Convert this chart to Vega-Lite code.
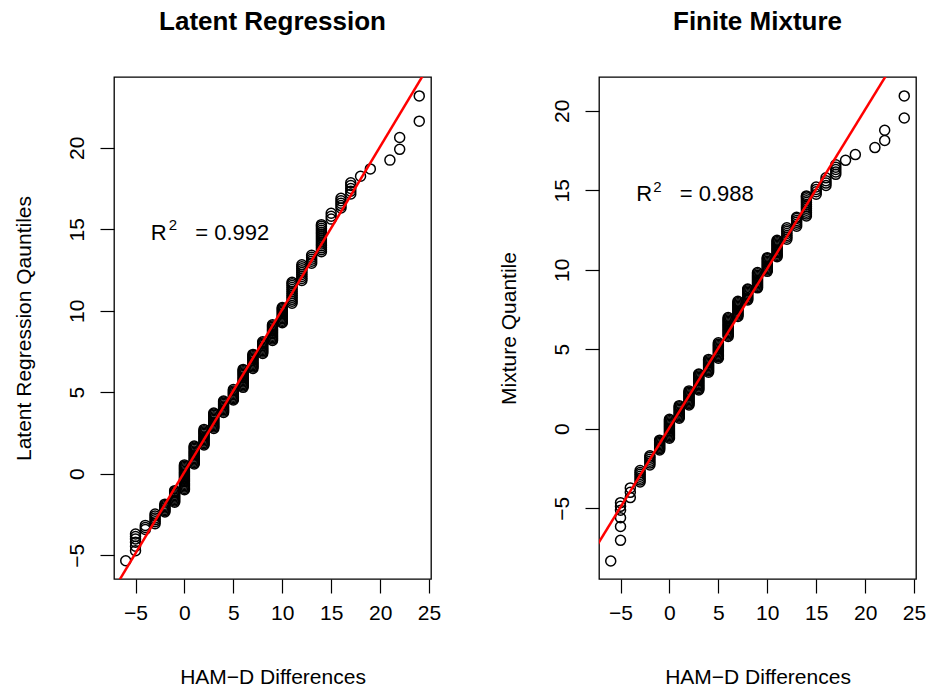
{
"$schema": "https://vega.github.io/schema/vega-lite/v6.json",
"padding": {"left": 12, "top": 8, "right": 5, "bottom": 0},
"background": "white",
"config": {
  "font": "Liberation Sans",
  "view": {"stroke": "black", "strokeWidth": 1.3},
  "axis": {"grid": false, "domain": false, "tickColor": "black", "tickWidth": 1.2, "tickSize": 14, "labelFont": "Liberation Sans", "labelFontSize": 21, "labelColor": "black", "labelFlush": false, "labelOverlap": false, "titleFont": "Liberation Sans", "titleFontSize": 21, "titleFontWeight": "normal", "titleColor": "black"},
  "title": {"font": "Liberation Sans", "fontSize": 26, "fontWeight": "bold", "color": "black", "anchor": "middle", "frame": "group", "baseline": "alphabetic", "offset": 42}
},
"datasets": {
"L": [
{"x":-6,"y":-5.34},
{"x":-5,"y":-4.72},{"x":-5,"y":-4.45},{"x":-5,"y":-4.2},{"x":-5,"y":-4.0},{"x":-5,"y":-3.85},{"x":-5,"y":-3.7},
{"x":-4,"y":-3.42},{"x":-4,"y":-3.3},{"x":-4,"y":-3.17},
{"x":-3,"y":-3.07},{"x":-3,"y":-2.95},{"x":-3,"y":-2.83},{"x":-3,"y":-2.71},{"x":-3,"y":-2.59},{"x":-3,"y":-2.47},
{"x":-2,"y":-2.35},{"x":-2,"y":-2.27},{"x":-2,"y":-2.19},{"x":-2,"y":-2.11},{"x":-2,"y":-2.03},{"x":-2,"y":-1.95},{"x":-2,"y":-1.87},
{"x":-1,"y":-1.75},{"x":-1,"y":-1.67},{"x":-1,"y":-1.59},{"x":-1,"y":-1.51},{"x":-1,"y":-1.43},{"x":-1,"y":-1.35},{"x":-1,"y":-1.27},{"x":-1,"y":-1.19},{"x":-1,"y":-1.11},{"x":-1,"y":-1.04},
{"x":0,"y":-0.98},{"x":0,"y":-0.9},{"x":0,"y":-0.82},{"x":0,"y":-0.74},{"x":0,"y":-0.66},{"x":0,"y":-0.58},{"x":0,"y":-0.5},{"x":0,"y":-0.42},{"x":0,"y":-0.34},{"x":0,"y":-0.26},{"x":0,"y":-0.18},{"x":0,"y":-0.1},{"x":0,"y":-0.02},{"x":0,"y":0.06},{"x":0,"y":0.14},{"x":0,"y":0.22},{"x":0,"y":0.3},{"x":0,"y":0.38},{"x":0,"y":0.46},{"x":0,"y":0.54},
{"x":1,"y":0.6},{"x":1,"y":0.68},{"x":1,"y":0.76},{"x":1,"y":0.84},{"x":1,"y":0.92},{"x":1,"y":1.0},{"x":1,"y":1.08},{"x":1,"y":1.16},{"x":1,"y":1.24},{"x":1,"y":1.32},{"x":1,"y":1.4},{"x":1,"y":1.48},{"x":1,"y":1.56},{"x":1,"y":1.64},{"x":1,"y":1.7},
{"x":2,"y":1.76},{"x":2,"y":1.84},{"x":2,"y":1.92},{"x":2,"y":2.0},{"x":2,"y":2.08},{"x":2,"y":2.16},{"x":2,"y":2.24},{"x":2,"y":2.32},{"x":2,"y":2.4},{"x":2,"y":2.48},{"x":2,"y":2.56},{"x":2,"y":2.64},{"x":2,"y":2.72},
{"x":3,"y":2.78},{"x":3,"y":2.86},{"x":3,"y":2.94},{"x":3,"y":3.02},{"x":3,"y":3.1},{"x":3,"y":3.18},{"x":3,"y":3.26},{"x":3,"y":3.34},{"x":3,"y":3.42},{"x":3,"y":3.5},{"x":3,"y":3.58},{"x":3,"y":3.66},{"x":3,"y":3.72},
{"x":4,"y":3.76},{"x":4,"y":3.84},{"x":4,"y":3.92},{"x":4,"y":4.0},{"x":4,"y":4.08},{"x":4,"y":4.16},{"x":4,"y":4.24},{"x":4,"y":4.32},{"x":4,"y":4.4},{"x":4,"y":4.46},
{"x":5,"y":4.52},{"x":5,"y":4.6},{"x":5,"y":4.68},{"x":5,"y":4.76},{"x":5,"y":4.84},{"x":5,"y":4.92},{"x":5,"y":5.0},{"x":5,"y":5.08},{"x":5,"y":5.16},
{"x":6,"y":5.3},{"x":6,"y":5.38},{"x":6,"y":5.46},{"x":6,"y":5.54},{"x":6,"y":5.62},{"x":6,"y":5.7},{"x":6,"y":5.78},{"x":6,"y":5.86},{"x":6,"y":5.94},{"x":6,"y":6.02},{"x":6,"y":6.1},{"x":6,"y":6.18},{"x":6,"y":6.26},{"x":6,"y":6.34},{"x":6,"y":6.4},
{"x":7,"y":6.46},{"x":7,"y":6.54},{"x":7,"y":6.62},{"x":7,"y":6.7},{"x":7,"y":6.78},{"x":7,"y":6.86},{"x":7,"y":6.94},{"x":7,"y":7.02},{"x":7,"y":7.1},{"x":7,"y":7.18},{"x":7,"y":7.26},{"x":7,"y":7.32},
{"x":8,"y":7.38},{"x":8,"y":7.46},{"x":8,"y":7.54},{"x":8,"y":7.62},{"x":8,"y":7.7},{"x":8,"y":7.78},{"x":8,"y":7.86},{"x":8,"y":7.94},{"x":8,"y":8.02},{"x":8,"y":8.1},
{"x":9,"y":8.18},{"x":9,"y":8.26},{"x":9,"y":8.34},{"x":9,"y":8.42},{"x":9,"y":8.5},{"x":9,"y":8.58},{"x":9,"y":8.66},{"x":9,"y":8.74},{"x":9,"y":8.82},{"x":9,"y":8.9},{"x":9,"y":8.98},{"x":9,"y":9.06},{"x":9,"y":9.14},
{"x":10,"y":9.26},{"x":10,"y":9.34},{"x":10,"y":9.42},{"x":10,"y":9.5},{"x":10,"y":9.58},{"x":10,"y":9.66},{"x":10,"y":9.74},{"x":10,"y":9.82},{"x":10,"y":9.9},{"x":10,"y":9.98},{"x":10,"y":10.06},{"x":10,"y":10.14},{"x":10,"y":10.2},
{"x":11,"y":10.46},{"x":11,"y":10.58},{"x":11,"y":10.7},{"x":11,"y":10.82},{"x":11,"y":10.94},{"x":11,"y":11.06},{"x":11,"y":11.18},{"x":11,"y":11.3},{"x":11,"y":11.42},{"x":11,"y":11.54},{"x":11,"y":11.66},{"x":11,"y":11.75},
{"x":12,"y":11.86},{"x":12,"y":11.98},{"x":12,"y":12.1},{"x":12,"y":12.22},{"x":12,"y":12.34},{"x":12,"y":12.46},{"x":12,"y":12.58},{"x":12,"y":12.7},{"x":12,"y":12.82},
{"x":13,"y":12.92},{"x":13,"y":13.04},{"x":13,"y":13.16},{"x":13,"y":13.28},{"x":13,"y":13.4},
{"x":14,"y":13.62},{"x":14,"y":13.74},{"x":14,"y":13.86},{"x":14,"y":13.98},{"x":14,"y":14.1},{"x":14,"y":14.22},{"x":14,"y":14.34},{"x":14,"y":14.46},{"x":14,"y":14.58},{"x":14,"y":14.7},{"x":14,"y":14.82},{"x":14,"y":14.94},{"x":14,"y":15.06},{"x":14,"y":15.18},{"x":14,"y":15.28},
{"x":15,"y":15.62},{"x":15,"y":15.8},{"x":15,"y":15.98},
{"x":16,"y":16.3},{"x":16,"y":16.45},{"x":16,"y":16.6},{"x":16,"y":16.75},{"x":16,"y":16.9},
{"x":17,"y":17.16},{"x":17,"y":17.33},{"x":17,"y":17.5},{"x":17,"y":17.68},{"x":17,"y":17.85},
{"x":18,"y":18.25},{"x":19,"y":18.7},{"x":21,"y":19.24},
{"x":22,"y":19.9},{"x":22,"y":20.63},
{"x":24,"y":21.63},{"x":24,"y":23.18}
],
"R": [
{"x":-6,"y":-8.32},
{"x":-5,"y":-7.02},{"x":-5,"y":-6.15},{"x":-5,"y":-5.6},{"x":-5,"y":-5.13},{"x":-5,"y":-4.88},{"x":-5,"y":-4.65},
{"x":-4,"y":-4.33},{"x":-4,"y":-4.0},{"x":-4,"y":-3.72},
{"x":-3,"y":-3.35},{"x":-3,"y":-3.23},{"x":-3,"y":-3.11},{"x":-3,"y":-2.99},{"x":-3,"y":-2.87},{"x":-3,"y":-2.75},{"x":-3,"y":-2.63},
{"x":-2,"y":-2.28},{"x":-2,"y":-2.16},{"x":-2,"y":-2.04},{"x":-2,"y":-1.92},{"x":-2,"y":-1.8},{"x":-2,"y":-1.7},
{"x":-1,"y":-1.33},{"x":-1,"y":-1.25},{"x":-1,"y":-1.17},{"x":-1,"y":-1.09},{"x":-1,"y":-1.01},{"x":-1,"y":-0.93},{"x":-1,"y":-0.85},{"x":-1,"y":-0.77},{"x":-1,"y":-0.72},
{"x":0,"y":-0.6},{"x":0,"y":-0.52},{"x":0,"y":-0.44},{"x":0,"y":-0.36},{"x":0,"y":-0.28},{"x":0,"y":-0.2},{"x":0,"y":-0.12},{"x":0,"y":-0.04},{"x":0,"y":0.04},{"x":0,"y":0.12},{"x":0,"y":0.2},{"x":0,"y":0.28},{"x":0,"y":0.36},{"x":0,"y":0.44},{"x":0,"y":0.52},{"x":0,"y":0.6},
{"x":1,"y":0.66},{"x":1,"y":0.74},{"x":1,"y":0.82},{"x":1,"y":0.9},{"x":1,"y":0.98},{"x":1,"y":1.06},{"x":1,"y":1.14},{"x":1,"y":1.22},{"x":1,"y":1.3},{"x":1,"y":1.38},{"x":1,"y":1.45},
{"x":2,"y":1.5},{"x":2,"y":1.58},{"x":2,"y":1.66},{"x":2,"y":1.74},{"x":2,"y":1.82},{"x":2,"y":1.9},{"x":2,"y":1.98},{"x":2,"y":2.06},{"x":2,"y":2.14},{"x":2,"y":2.22},{"x":2,"y":2.3},{"x":2,"y":2.38},
{"x":3,"y":2.44},{"x":3,"y":2.52},{"x":3,"y":2.6},{"x":3,"y":2.68},{"x":3,"y":2.76},{"x":3,"y":2.84},{"x":3,"y":2.92},{"x":3,"y":3.0},{"x":3,"y":3.08},{"x":3,"y":3.16},{"x":3,"y":3.24},{"x":3,"y":3.32},{"x":3,"y":3.4},{"x":3,"y":3.44},
{"x":4,"y":3.56},{"x":4,"y":3.64},{"x":4,"y":3.72},{"x":4,"y":3.8},{"x":4,"y":3.88},{"x":4,"y":3.96},{"x":4,"y":4.04},{"x":4,"y":4.12},{"x":4,"y":4.2},{"x":4,"y":4.28},{"x":4,"y":4.36},
{"x":5,"y":4.44},{"x":5,"y":4.52},{"x":5,"y":4.6},{"x":5,"y":4.68},{"x":5,"y":4.76},{"x":5,"y":4.84},{"x":5,"y":4.92},{"x":5,"y":5.0},{"x":5,"y":5.08},{"x":5,"y":5.16},{"x":5,"y":5.24},{"x":5,"y":5.32},{"x":5,"y":5.4},
{"x":6,"y":5.8},{"x":6,"y":5.88},{"x":6,"y":5.96},{"x":6,"y":6.04},{"x":6,"y":6.12},{"x":6,"y":6.2},{"x":6,"y":6.28},{"x":6,"y":6.36},{"x":6,"y":6.44},{"x":6,"y":6.52},{"x":6,"y":6.6},{"x":6,"y":6.68},{"x":6,"y":6.76},{"x":6,"y":6.84},{"x":6,"y":6.92},{"x":6,"y":6.99},
{"x":7,"y":7.06},{"x":7,"y":7.14},{"x":7,"y":7.22},{"x":7,"y":7.3},{"x":7,"y":7.38},{"x":7,"y":7.46},{"x":7,"y":7.54},{"x":7,"y":7.62},{"x":7,"y":7.7},{"x":7,"y":7.78},{"x":7,"y":7.86},{"x":7,"y":7.94},{"x":7,"y":8.02},
{"x":8,"y":8.1},{"x":8,"y":8.18},{"x":8,"y":8.26},{"x":8,"y":8.34},{"x":8,"y":8.42},{"x":8,"y":8.5},{"x":8,"y":8.58},{"x":8,"y":8.66},{"x":8,"y":8.74},{"x":8,"y":8.78},
{"x":9,"y":8.86},{"x":9,"y":8.94},{"x":9,"y":9.02},{"x":9,"y":9.1},{"x":9,"y":9.18},{"x":9,"y":9.26},{"x":9,"y":9.34},{"x":9,"y":9.42},{"x":9,"y":9.5},{"x":9,"y":9.58},{"x":9,"y":9.66},{"x":9,"y":9.74},{"x":9,"y":9.82},
{"x":10,"y":9.9},{"x":10,"y":9.98},{"x":10,"y":10.06},{"x":10,"y":10.14},{"x":10,"y":10.22},{"x":10,"y":10.3},{"x":10,"y":10.38},{"x":10,"y":10.46},{"x":10,"y":10.54},{"x":10,"y":10.62},{"x":10,"y":10.7},{"x":10,"y":10.76},
{"x":11,"y":10.82},{"x":11,"y":10.9},{"x":11,"y":10.98},{"x":11,"y":11.06},{"x":11,"y":11.14},{"x":11,"y":11.22},{"x":11,"y":11.3},{"x":11,"y":11.38},{"x":11,"y":11.46},{"x":11,"y":11.54},{"x":11,"y":11.62},{"x":11,"y":11.7},{"x":11,"y":11.78},{"x":11,"y":11.85},
{"x":12,"y":11.92},{"x":12,"y":12.04},{"x":12,"y":12.16},{"x":12,"y":12.28},{"x":12,"y":12.4},{"x":12,"y":12.52},{"x":12,"y":12.64},
{"x":13,"y":12.74},{"x":13,"y":12.86},{"x":13,"y":12.98},{"x":13,"y":13.1},{"x":13,"y":13.22},{"x":13,"y":13.3},
{"x":14,"y":13.38},{"x":14,"y":13.5},{"x":14,"y":13.62},{"x":14,"y":13.74},{"x":14,"y":13.86},{"x":14,"y":13.98},{"x":14,"y":14.1},{"x":14,"y":14.22},{"x":14,"y":14.34},{"x":14,"y":14.46},{"x":14,"y":14.58},{"x":14,"y":14.64},
{"x":15,"y":14.75},{"x":15,"y":14.9},{"x":15,"y":15.05},{"x":15,"y":15.2},
{"x":16,"y":15.3},{"x":16,"y":15.45},{"x":16,"y":15.6},{"x":16,"y":15.78},
{"x":17,"y":16.0},{"x":17,"y":16.15},{"x":17,"y":16.3},{"x":17,"y":16.45},{"x":17,"y":16.6},
{"x":18,"y":16.88},{"x":19,"y":17.24},{"x":21,"y":17.68},
{"x":22,"y":18.13},{"x":22,"y":18.77},
{"x":24,"y":19.54},{"x":24,"y":20.93}
],
"Lline": [{"x":-8,"y":-7.877},{"x":26,"y":26.055}],
"Rline": [{"x":-8,"y":-7.93},{"x":26,"y":26.07}]
},
"spacing": 55,
"hconcat": [
{
  "width": 317, "height": 502,
  "title": "Latent Regression",
  "layer": [
    {"data": {"name": "L"},
     "mark": {"type": "point", "shape": "circle", "filled": false, "stroke": "black", "strokeWidth": 1.5, "size": 100, "opacity": 1},
     "encoding": {
       "x": {"field": "x", "type": "quantitative", "scale": {"domain": [-7.2, 25.2], "nice": false, "zero": false},
             "axis": {"values": [-5,0,5,10,15,20,25], "title": "HAM−D Differences", "labelBaseline": "alphabetic", "labelPadding": 26, "titleX": 158.5, "titleY": 104, "titleBaseline": "alphabetic", "titleAlign": "center"}},
       "y": {"field": "y", "type": "quantitative", "scale": {"domain": [-6.46, 24.34], "nice": false, "zero": false},
             "axis": {"values": [-5,0,5,10,15,20], "title": "Latent Regression Qauntiles", "labelAngle": -90, "labelAlign": "center", "labelBaseline": "alphabetic", "labelPadding": 17, "titleAngle": -90, "titleX": -84, "titleY": 251, "titleBaseline": "alphabetic", "titleAlign": "center"}}
     }},
    {"data": {"name": "Lline"},
     "mark": {"type": "line", "color": "#FF0000", "strokeWidth": 2.5, "clip": true},
     "encoding": {
       "x": {"field": "x", "type": "quantitative", "scale": {"domain": [-7.2, 25.2], "nice": false, "zero": false}},
       "y": {"field": "y", "type": "quantitative", "scale": {"domain": [-6.46, 24.34], "nice": false, "zero": false}}
     }},
    {"data": {"values": [{"x": -3.45, "y": 14.36, "t": "R"}, {"x": 1.1, "y": 14.36, "t": "= 0.992"}]},
     "mark": {"type": "text", "align": "left", "baseline": "alphabetic", "fontSize": 22, "font": "Liberation Sans", "color": "black"},
     "encoding": {
       "x": {"field": "x", "type": "quantitative", "scale": {"domain": [-7.2, 25.2], "nice": false, "zero": false}},
       "y": {"field": "y", "type": "quantitative", "scale": {"domain": [-6.46, 24.34], "nice": false, "zero": false}},
       "text": {"field": "t"}
     }},
    {"data": {"values": [{"x": -1.6, "y": 14.97, "t": "2"}]},
     "mark": {"type": "text", "align": "left", "baseline": "alphabetic", "fontSize": 15, "font": "Liberation Sans", "color": "black"},
     "encoding": {
       "x": {"field": "x", "type": "quantitative", "scale": {"domain": [-7.2, 25.2], "nice": false, "zero": false}},
       "y": {"field": "y", "type": "quantitative", "scale": {"domain": [-6.46, 24.34], "nice": false, "zero": false}},
       "text": {"field": "t"}
     }}
  ]
},
{
  "width": 317, "height": 502,
  "title": "Finite Mixture",
  "layer": [
    {"data": {"name": "R"},
     "mark": {"type": "point", "shape": "circle", "filled": false, "stroke": "black", "strokeWidth": 1.5, "size": 100, "opacity": 1},
     "encoding": {
       "x": {"field": "x", "type": "quantitative", "scale": {"domain": [-7.2, 25.2], "nice": false, "zero": false},
             "axis": {"values": [-5,0,5,10,15,20,25], "title": "HAM−D Differences", "labelBaseline": "alphabetic", "labelPadding": 26, "titleX": 158.5, "titleY": 104, "titleBaseline": "alphabetic", "titleAlign": "center"}},
       "y": {"field": "y", "type": "quantitative", "scale": {"domain": [-9.45, 22.12], "nice": false, "zero": false},
             "axis": {"values": [-5,0,5,10,15,20], "title": "Mixture Quantile", "labelAngle": -90, "labelAlign": "center", "labelBaseline": "alphabetic", "labelPadding": 17, "titleAngle": -90, "titleX": -84, "titleY": 251, "titleBaseline": "alphabetic", "titleAlign": "center"}}
     }},
    {"data": {"name": "Rline"},
     "mark": {"type": "line", "color": "#FF0000", "strokeWidth": 2.5, "clip": true},
     "encoding": {
       "x": {"field": "x", "type": "quantitative", "scale": {"domain": [-7.2, 25.2], "nice": false, "zero": false}},
       "y": {"field": "y", "type": "quantitative", "scale": {"domain": [-9.45, 22.12], "nice": false, "zero": false}}
     }},
    {"data": {"values": [{"x": -3.4, "y": 14.3, "t": "R"}, {"x": 1.05, "y": 14.3, "t": "= 0.988"}]},
     "mark": {"type": "text", "align": "left", "baseline": "alphabetic", "fontSize": 22, "font": "Liberation Sans", "color": "black"},
     "encoding": {
       "x": {"field": "x", "type": "quantitative", "scale": {"domain": [-7.2, 25.2], "nice": false, "zero": false}},
       "y": {"field": "y", "type": "quantitative", "scale": {"domain": [-9.45, 22.12], "nice": false, "zero": false}},
       "text": {"field": "t"}
     }},
    {"data": {"values": [{"x": -1.65, "y": 14.86, "t": "2"}]},
     "mark": {"type": "text", "align": "left", "baseline": "alphabetic", "fontSize": 15, "font": "Liberation Sans", "color": "black"},
     "encoding": {
       "x": {"field": "x", "type": "quantitative", "scale": {"domain": [-7.2, 25.2], "nice": false, "zero": false}},
       "y": {"field": "y", "type": "quantitative", "scale": {"domain": [-9.45, 22.12], "nice": false, "zero": false}},
       "text": {"field": "t"}
     }}
  ]
}
]
}
